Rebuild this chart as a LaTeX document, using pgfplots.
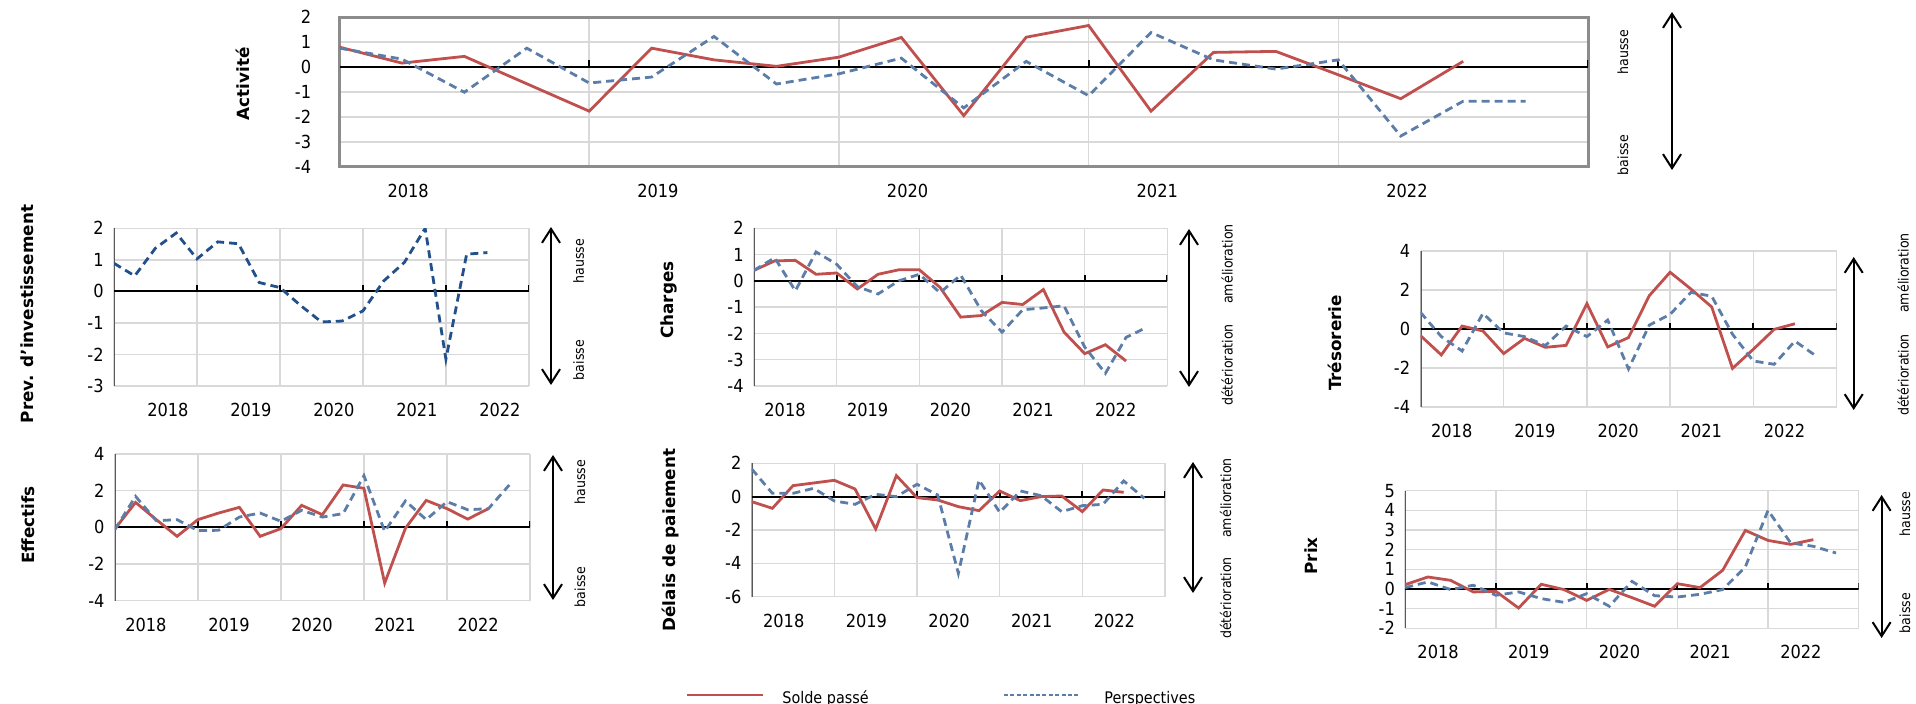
\documentclass[border=0pt]{standalone}
\usepackage{fontspec}
\setmainfont{DejaVu Sans}
\newfontfamily\cond{DejaVu Sans Condensed}
\usepackage{pgfplots}
\pgfplotsset{compat=1.18}
\usetikzlibrary{arrows.meta}

\definecolor{rouge}{HTML}{C0504D}
\definecolor{bleu}{HTML}{5B7DA8}
\definecolor{marine}{HTML}{23508A}
\definecolor{gridc}{HTML}{D9D9D9}
\definecolor{bordc}{HTML}{8C8C8C}
\definecolor{axisc}{HTML}{595959}

\newcommand{\tickf}{\cond\fontsize{9}{10}\selectfont}
\newcommand{\titf}{\bfseries\fontsize{8.4}{10}\selectfont}
\newcommand{\sidef}{\cond\fontsize{7}{8}\selectfont}

\pgfplotsset{
  panel/.style={
    anchor=north west, scale only axis,
    xmin=0, xmax=20,
    xtick={0,4,8,12,16,20}, xticklabels={,,,,,},
    major tick length=0pt,
    grid=major, grid style={color=gridc, line width=0.75pt},
    axis line style={draw=none},
    extra x tick labels={2018,2019,2020,2021,2022},
    extra x tick style={grid=none, major tick length=0pt},
    /pgf/number format/assume math mode=true,
    yticklabel style={font=\tickf, inner sep=0pt, anchor=east, xshift=-5pt},
    xticklabel style={font=\tickf, inner sep=0pt, anchor=center, yshift=-12pt},
  },
  solde/.style={rouge, line width=1.4pt, no markers},
  persp/.style={bleu, line width=1.4pt, no markers, dash pattern=on 4pt off 2.5pt},
}

% axe des zeros, reperes et axe gauche
\newcommand{\zeroline}{%
  \draw[axisc, line width=1pt] (rel axis cs:0,0) -- (rel axis cs:0,1);
  \draw[black, line width=1pt] (axis cs:0,0) -- (axis cs:20,0);
  \pgfplotsinvokeforeach{4,8,12,16,20}{\draw[black, line width=1pt] (axis cs:##1,0) -- ++(0pt,3pt);}
}

\begin{document}
\begin{tikzpicture}
\path[use as bounding box] (0,0) rectangle (958pt,-352pt);

% ---- Activite
\begin{axis}[panel, at={(169.75pt,-8.65pt)}, width=624.25pt, height=74.7pt,
  ymin=-4, ymax=2, ytick={-4,...,2},
  xtick={4,8,12,16}, xticklabels={,,,},
  axis line style={draw=bordc, line width=1.5pt},
  extra x ticks={1.1,5.1,9.1,13.1,17.1},
  yticklabel style={xshift=-9pt}]
\draw[black, line width=1pt] (axis cs:0,0) -- (axis cs:20,0);
\pgfplotsinvokeforeach{4,8,12,16,20}{\draw[black, line width=1pt] (axis cs:#1,0) -- ++(0pt,3.3pt);}
\addplot[solde] coordinates {(0,0.8)(1,0.16)(2,0.43)(3,-0.67)(4,-1.77)(5,0.76)(6,0.29)(7,0.03)(8,0.4)(9,1.19)(10,-1.95)(11,1.2)(12,1.67)(13,-1.77)(14,0.59)(15,0.63)(16,-0.31)(17,-1.27)(18,0.23)};
\addplot[persp] coordinates {(0,0.76)(1,0.32)(2,-1.01)(3,0.76)(4,-0.64)(5,-0.4)(6,1.23)(7,-0.68)(8,-0.27)(9,0.36)(10,-1.64)(11,0.23)(12,-1.15)(13,1.39)(14,0.29)(15,-0.08)(16,0.29)(17,-2.77)(18,-1.37)(19,-1.37)};
\end{axis}

% ---- Prev. d'investissement
\begin{axis}[panel, at={(57pt,-114.15pt)}, width=207.45pt, height=78.85pt,
  ymin=-3, ymax=2, ytick={-3,...,2},
  extra x ticks={2.6,6.6,10.6,14.6,18.6}]
\zeroline
\addplot[marine, line width=1.4pt, no markers, dash pattern=on 4pt off 2.5pt] coordinates {(0,0.89)(1,0.49)(2,1.37)(3,1.85)(4,1.03)(5,1.57)(6,1.51)(7,0.28)(8,0.12)(9,-0.45)(10,-0.97)(11,-0.94)(12,-0.62)(13,0.33)(14,0.92)(15,2.0)(16,-2.15)(17,1.18)(18,1.23)};
\end{axis}

% ---- Charges
\begin{axis}[panel, at={(377pt,-114.15pt)}, width=206.7pt, height=78.85pt,
  ymin=-4, ymax=2, ytick={-4,...,2},
  extra x ticks={1.5,5.5,9.5,13.5,17.5}]
\zeroline
\addplot[solde] coordinates {(0,0.40)(1,0.76)(2,0.78)(3,0.25)(4,0.30)(5,-0.31)(6,0.25)(7,0.42)(8,0.42)(9,-0.25)(10,-1.38)(11,-1.32)(12,-0.82)(13,-0.9)(14,-0.33)(15,-1.95)(16,-2.77)(17,-2.43)(18,-3.05)};
\addplot[persp] coordinates {(0,0.4)(1,0.88)(2,-0.38)(3,1.1)(4,0.63)(5,-0.22)(6,-0.5)(7,0.0)(8,0.25)(9,-0.45)(10,0.22)(11,-1.14)(12,-1.95)(13,-1.1)(14,-1.03)(15,-0.95)(16,-2.52)(17,-3.52)(18,-2.15)(19,-1.77)};
\end{axis}

% ---- Tresorerie
\begin{axis}[panel, at={(710.25pt,-125.5pt)}, width=208pt, height=78pt,
  ymin=-4, ymax=4, ytick={-4,-2,...,4},
  extra x ticks={1.5,5.5,9.5,13.5,17.5}]
\zeroline
\addplot[solde] coordinates {(0,-0.34)(1,-1.33)(2,0.15)(3,-0.1)(4,-1.26)(5,-0.48)(6,-0.94)(7,-0.84)(8,1.3)(9,-0.92)(10,-0.44)(11,1.71)(12,2.91)(13,2.05)(14,1.13)(15,-2.02)(16,-1.04)(17,-0.02)(18,0.27)};
\addplot[persp] coordinates {(0,0.85)(1,-0.39)(2,-1.13)(3,0.8)(4,-0.2)(5,-0.39)(6,-0.85)(7,0.15)(8,-0.39)(9,0.46)(10,-2.05)(11,0.2)(12,0.75)(13,1.88)(14,1.68)(15,-0.27)(16,-1.64)(17,-1.81)(18,-0.62)(19,-1.37)};
\end{axis}

% ---- Effectifs
\begin{axis}[panel, at={(57.4pt,-227pt)}, width=207.6pt, height=73.35pt,
  ymin=-4, ymax=4, ytick={-4,-2,...,4},
  extra x ticks={1.5,5.5,9.5,13.5,17.5}]
\zeroline
\addplot[solde] coordinates {(0,-0.09)(1,1.36)(2,0.42)(3,-0.49)(4,0.42)(5,0.78)(6,1.09)(7,-0.49)(8,-0.07)(9,1.2)(10,0.69)(11,2.31)(12,2.13)(13,-3.04)(14,-0.05)(15,1.47)(16,1.02)(17,0.45)(18,1.02)};
\addplot[persp] coordinates {(0,-0.13)(1,1.69)(2,0.36)(3,0.42)(4,-0.18)(5,-0.16)(6,0.56)(7,0.78)(8,0.33)(9,0.93)(10,0.56)(11,0.75)(12,2.82)(13,-0.22)(14,1.44)(15,0.42)(16,1.4)(17,0.96)(18,1.02)(19,2.31)};
\end{axis}

% ---- Delais de paiement
\begin{axis}[panel, at={(375.85pt,-231.65pt)}, width=206.65pt, height=66.7pt,
  ymin=-6, ymax=2, ytick={-6,-4,...,2},
  extra x ticks={1.55,5.55,9.55,13.55,17.55}]
\zeroline
\addplot[solde] coordinates {(0,-0.3)(1,-0.7)(2,0.66)(3,0.82)(4,0.98)(5,0.46)(6,-1.94)(7,1.26)(8,-0.06)(9,-0.2)(10,-0.6)(11,-0.84)(12,0.34)(13,-0.24)(14,0.0)(15,0.04)(16,-0.9)(17,0.4)(18,0.26)};
\addplot[persp] coordinates {(0,1.66)(1,0.2)(2,0.2)(3,0.5)(4,-0.26)(5,-0.46)(6,0.14)(7,0.0)(8,0.74)(9,0.1)(10,-4.6)(11,1.0)(12,-0.94)(13,0.34)(14,0.06)(15,-0.9)(16,-0.54)(17,-0.46)(18,0.94)(19,-0.1)};
\end{axis}

% ---- Prix
\begin{axis}[panel, at={(702.6pt,-245.35pt)}, width=226.75pt, height=68.8pt,
  ymin=-2, ymax=5, ytick={-2,...,5},
  extra x ticks={1.45,5.45,9.45,13.45,17.45}]
\zeroline
\addplot[solde] coordinates {(0,0.22)(1,0.61)(2,0.44)(3,-0.15)(4,-0.12)(5,-0.97)(6,0.24)(7,-0.03)(8,-0.58)(9,-0.02)(10,-0.44)(11,-0.88)(12,0.27)(13,0.07)(14,0.95)(15,2.98)(16,2.47)(17,2.27)(18,2.51)};
\addplot[persp] coordinates {(0,0.07)(1,0.36)(2,-0.03)(3,0.19)(4,-0.32)(5,-0.15)(6,-0.49)(7,-0.68)(8,-0.24)(9,-0.88)(10,0.39)(11,-0.34)(12,-0.41)(13,-0.27)(14,-0.03)(15,1.12)(16,4.0)(17,2.34)(18,2.17)(19,1.83)};
\end{axis}

% ---- textes, fleches et legende (coordonnees en pixels)
\begin{scope}[x=0.5pt, y=-0.5pt]
\tikzset{tit/.style={rotate=90, font=\titf, inner sep=0pt},
         side/.style={rotate=90, font=\sidef, inner sep=0pt},
         fl/.style={line width=1pt, {Straight Barb[length=7pt,width=9pt]}-{Straight Barb[length=7pt,width=9pt]}}}
\node[tit] at (243,84) {Activité};
\node[tit] at (27,314) {Prev. d'investissement};
\node[tit] at (668.7,300) {Charges};
\node[tit] at (1335,343) {Trésorerie};
\node[tit] at (28.7,525) {Effectifs};
\node[tit] at (670.6,540) {Délais de paiement};
\node[tit] at (1311,556) {Prix};

\node[side] at (1623,52) {hausse};
\node[side] at (1623,155) {baisse};
\draw[fl] (1672,12) -- (1672,170);

\node[side] at (578.6,261) {hausse};
\node[side] at (578.6,360) {baisse};
\draw[fl] (551,227) -- (551,385);

\node[side] at (1227,264) {amélioration};
\node[side] at (1227,365) {détérioration};
\draw[fl] (1189,229) -- (1189,387);

\node[side] at (1903,273) {amélioration};
\node[side] at (1903,375) {détérioration};
\draw[fl] (1853.7,257) -- (1853.7,410);

\node[side] at (580,482) {hausse};
\node[side] at (580,587) {baisse};
\draw[fl] (553,455) -- (553,600);

\node[side] at (1225.5,498) {amélioration};
\node[side] at (1225.5,598) {détérioration};
\draw[fl] (1193,462) -- (1193,593);

\node[side] at (1905,514) {hausse};
\node[side] at (1905,613) {baisse};
\draw[fl] (1881.6,495) -- (1881.6,638);

\draw[rouge, line width=1.1pt] (687,695) -- (763,695);
\node[anchor=base west, inner sep=0pt, font=\cond\fontsize{8}{9}\selectfont] at (782,703.5) {Solde passé};
\draw[bleu, line width=1.1pt, dash pattern=on 2pt off 1.2pt] (1004,695) -- (1080,695);
\node[anchor=base west, inner sep=0pt, font=\cond\fontsize{8}{9}\selectfont] at (1104,703.5) {Perspectives};
\end{scope}
\end{tikzpicture}
\end{document}
